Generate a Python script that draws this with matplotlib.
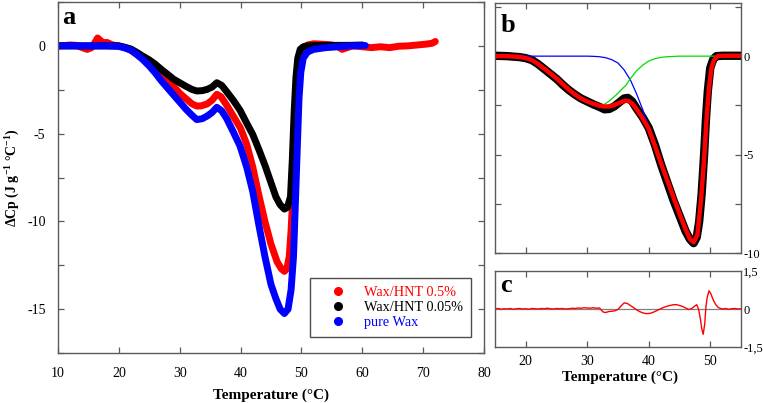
import matplotlib
matplotlib.use("Agg")
import matplotlib.pyplot as plt
from matplotlib.lines import Line2D
from matplotlib.ticker import MultipleLocator, FixedLocator

plt.rcParams['font.family'] = ['Liberation Serif', 'DejaVu Serif']
plt.rcParams['mathtext.fontset'] = 'custom'
plt.rcParams['mathtext.rm'] = 'Liberation Serif'
plt.rcParams['mathtext.bf'] = 'Liberation Serif:bold'
plt.rcParams['axes.unicode_minus'] = False

# ---------------- Panel a data ----------------
T_red = [10, 11, 12, 13, 14, 14.8, 15.5, 16, 16.5, 17, 17.5, 18, 19, 20, 21, 22, 23, 24, 25, 26,
         27, 28, 29, 30, 31, 32, 32.8, 33.5, 34.5, 35.3, 36.1, 36.8, 37.7, 38.8, 40, 41, 42, 43,
         44, 45, 46, 46.7, 47.2, 47.6, 48.0, 48.3, 48.6, 48.9, 49.2, 49.5, 49.9, 50.5, 51, 52, 53,
         54, 55, 56, 56.7, 57.5, 58.5, 60, 61.5, 63, 64.5, 66, 67.5, 69, 70.5, 71.5, 72]
cp_red = [0.0, 0.02, 0.05, 0.03, -0.1, -0.2, -0.1, 0.15, 0.45, 0.3, 0.15, 0.2, 0.05, 0.0, -0.1,
          -0.25, -0.5, -0.75, -1.0, -1.3, -1.62, -1.94, -2.3, -2.7, -3.0, -3.3, -3.43, -3.42,
          -3.31, -3.1, -2.76, -2.9, -3.37, -4.0, -4.7, -5.6, -6.9, -8.5, -10.0, -11.3, -12.3,
          -12.7, -12.85, -12.7, -12.0, -10.5, -8.5, -5.5, -2.8, -1.2, -0.4, -0.1, 0.05, 0.12,
          0.1, 0.08, 0.05, -0.05, -0.2, -0.1, 0.0, -0.05, -0.1, -0.05, -0.1, -0.02, 0.0, 0.05,
          0.1, 0.15, 0.25]

T_blk = [10, 12, 14, 16, 18, 20, 21, 22, 23, 24, 25, 26, 27, 28, 29, 30, 31, 32, 32.8, 33.7,
         34.5, 35.3, 36.1, 36.9, 37.7, 38.8, 39.9, 41, 42, 43, 44, 45, 45.8, 46.5, 47.2, 47.7,
         48.2, 48.5, 48.8, 49.1, 49.4, 49.8, 50.3, 51, 52, 54, 56, 58, 60]
cp_blk = [0, 0, 0, 0, 0, 0, -0.08, -0.18, -0.38, -0.6, -0.8, -1.05, -1.35, -1.62, -1.9, -2.1,
          -2.3, -2.48, -2.57, -2.55, -2.48, -2.35, -2.1, -2.25, -2.6, -3.1, -3.66, -4.4, -5.05,
          -5.9, -6.8, -7.8, -8.6, -9.05, -9.3, -9.2, -8.6, -6.5, -3.8, -1.8, -0.7, -0.2, -0.05,
          0.0, 0.02, 0.03, 0.03, 0.03, 0.05]

T_blu = [10, 12, 14, 16, 18, 20, 21, 22, 23, 24, 25, 26, 27, 28, 29, 30, 31, 32, 32.8, 33.7,
         34.5, 35.3, 36.1, 36.9, 37.7, 38.8, 39.9, 41, 42, 43, 44, 45, 45.8, 46.5, 47.2, 47.8,
         48.3, 48.7, 49.0, 49.3, 49.6, 49.9, 50.3, 51, 52, 54, 56, 58, 60.5]
cp_blu = [0, 0, 0, 0, 0, -0.03, -0.12, -0.25, -0.5, -0.8, -1.15, -1.55, -2.0, -2.4, -2.8, -3.2,
          -3.6, -3.95, -4.2, -4.15, -4.0, -3.8, -3.5, -3.7, -4.13, -4.9, -5.7, -6.9, -8.3,
          -10.2, -12.0, -13.6, -14.4, -15.0, -15.25, -15.0, -13.9, -12.0, -9.0, -6.0, -3.0,
          -1.5, -0.7, -0.35, -0.2, -0.1, -0.05, 0.0, 0.02]

legend_labels = ["Wax/HNT 0.5%", "Wax/HNT 0.05%", "pure Wax"]
series_colors = ["#ff0000", "#000000", "#0000ff"]

# ---------------- Panel b data ----------------
T_b = [15, 17, 19, 20, 21, 22, 23, 24, 25, 26, 27, 28, 29, 30, 31, 32, 32.8, 33.6, 34.4, 35.2,
       36.0, 36.6, 37.3, 38, 39, 40, 41, 42, 43, 44, 45, 46, 46.7, 47.3, 47.8, 48.2, 48.6, 49.0,
       49.3, 49.6, 50.0, 50.5, 51, 52, 53, 54, 55]
cp_b = [0.02, 0.0, -0.05, -0.1, -0.2, -0.4, -0.65, -0.9, -1.15, -1.45, -1.72, -1.95, -2.15,
        -2.3, -2.45, -2.58, -2.7, -2.68, -2.55, -2.35, -2.15, -2.12, -2.3, -2.65, -3.1, -3.65,
        -4.5, -5.5, -6.4, -7.3, -8.1, -8.9, -9.3, -9.5, -9.2, -8.4, -7.0, -5.0, -3.2, -1.8,
        -0.6, -0.15, 0.0, 0.02, 0.02, 0.02, 0.02]

T_fit = [15, 17, 19, 20, 21, 22, 23, 24, 25, 26, 27, 28, 29, 30, 31, 32, 32.8, 33.6, 34.4, 35.2,
         36.0, 36.6, 37.3, 38, 39, 40, 41, 42, 43, 44, 45, 46, 46.7, 47.3, 47.9, 48.5, 49.0,
         49.4, 49.8, 50.2, 50.6, 51.2, 52, 53, 54, 55]
cp_fit = [0, 0, -0.04, -0.1, -0.2, -0.4, -0.63, -0.88, -1.13, -1.42, -1.7, -1.95, -2.15, -2.3,
          -2.42, -2.52, -2.56, -2.55, -2.48, -2.38, -2.28, -2.27, -2.4, -2.68, -3.15, -3.7,
          -4.55, -5.45, -6.3, -7.15, -8.0, -8.8, -9.3, -9.45, -9.1, -7.3, -5.25, -3.2, -1.6,
          -0.6, -0.2, 0.0, 0.02, 0.02, 0.02, 0.02]

T_peak1 = [15, 20, 25, 30, 31, 32, 33, 34, 35, 36, 37, 38, 39, 40, 41.1]
cp_peak1 = [0, 0, 0, 0, -0.01, -0.03, -0.08, -0.18, -0.35, -0.7, -1.2, -1.9, -2.7, -3.6, -4.6]

T_peak2 = [32.6, 33.5, 34.7, 36.3, 37, 38, 39, 40, 41, 42, 43, 45, 51.2]
cp_peak2 = [-2.48, -2.3, -1.97, -1.47, -1.15, -0.75, -0.46, -0.25, -0.13, -0.06, -0.03, 0.0, 0.0]

# ---------------- Panel c data (residual) ----------------
T_res = [15, 15.5, 16, 16.5, 17, 17.5, 18, 18.5, 19, 19.5, 20, 20.5, 21, 21.5, 22, 22.5, 23,
         23.5, 24, 24.5, 25, 25.5, 26, 26.5, 27, 27.5, 28, 28.5, 29, 29.5, 30, 30.5, 31, 31.5,
         32, 32.3, 32.6, 33, 33.5, 34, 34.5, 35, 35.5, 36, 36.5, 37, 37.5, 38, 38.5, 39, 39.5,
         40, 40.5, 41, 41.5, 42, 42.5, 43, 43.5, 44, 44.5, 45, 45.5, 46, 46.5, 47, 47.4, 47.8,
         48.1, 48.4, 48.6, 48.85, 49.1, 49.3, 49.5, 49.8, 50.1, 50.5, 50.9, 51.3, 51.7, 52,
         52.5, 53, 53.5, 54, 54.5, 55]
res = [0.0, 0.02, -0.01, 0.01, 0.0, 0.02, -0.01, 0.01, 0.02, 0.0, 0.01, -0.01, 0.02, 0.01, 0.0,
       0.02, 0.01, 0.03, 0.01, 0.0, 0.02, 0.01, 0.02, 0.0, 0.01, 0.03, 0.02, 0.04, 0.03, 0.05,
       0.04, 0.03, 0.05, 0.03, 0.04, -0.05, -0.12, -0.14, -0.1, -0.09, -0.07, -0.02, 0.12,
       0.24, 0.22, 0.14, 0.06, -0.03, -0.1, -0.15, -0.18, -0.18, -0.15, -0.1, -0.04, 0.02,
       0.07, 0.11, 0.14, 0.17, 0.17, 0.14, 0.1, 0.04, -0.02, 0.02, 0.1, 0.17, 0.0, -0.4,
       -0.75, -1.0, -0.6, 0.1, 0.45, 0.72, 0.6, 0.35, 0.17, 0.06, 0.02, 0.0, 0.02, -0.01,
       0.01, 0.02, 0.0, 0.01]

xt_a = [10, 20, 30, 40, 50, 60, 70, 80]
yt_a = [0, -5, -10, -15]
xt_bc = [20, 30, 40, 50]
yt_b = [0, -5, -10]
yt_c = [1.5, 0, -1.5]
yt_c_labels = ["1,5", "0", "-1,5"]

# ---------------- Figure ----------------
W, H = 763, 403
fig = plt.figure(figsize=(W / 100, H / 100), dpi=100)

def rect(l, t, r, b):
    return [l / W, 1 - b / H, (r - l) / W, (b - t) / H]

axa = fig.add_axes(rect(58, 2, 484, 353))
axb = fig.add_axes(rect(495, 3, 741, 253))
axc = fig.add_axes(rect(495, 271, 741, 347))

spine_col = "#5a5a5a"
for ax in (axa, axb, axc):
    for s in ax.spines.values():
        s.set_color(spine_col)
        s.set_linewidth(1.0)
    ax.tick_params(which='both', direction='in', top=True, right=True, length=4,
                   width=0.9, color=spine_col, labelsize=10)

# Panel a
for T, cp, col in zip([T_red, T_blk, T_blu], [cp_red, cp_blk, cp_blu], series_colors):
    axa.plot(T, cp, color=col, lw=5, solid_capstyle='round', solid_joinstyle='round')
axa.set_xlim(10, 80)
axa.set_ylim(-17.5, 2.5)
axa.xaxis.set_major_locator(FixedLocator(xt_a))
axa.yaxis.set_major_locator(FixedLocator(yt_a))
axa.yaxis.set_minor_locator(MultipleLocator(2.5))
axa.tick_params(axis='y', which='major', pad=9)
axa.tick_params(axis='x', which='major', pad=10)
axa.tick_params(axis='y', which='minor', length=4)

handles = [Line2D([], [], ls='none', marker='o', ms=5.5, color=c) for c in series_colors]
leg = axa.legend(handles, legend_labels, loc='lower right', bbox_to_anchor=(0.969, 0.046),
                 fontsize=10.3, frameon=True, fancybox=False, handlelength=2.9,
                 handletextpad=0.35, borderpad=0.55, labelspacing=0.15, borderaxespad=0)
leg.get_frame().set_edgecolor('#222222')
leg.get_frame().set_linewidth(1.0)
for txt, c in zip(leg.get_texts(), series_colors):
    txt.set_color(c)

# Panel b
axb.plot(T_b, cp_b, color='black', lw=6, solid_capstyle='round', solid_joinstyle='round')
axb.plot(T_peak1, cp_peak1, color='#0000ff', lw=0.9)
axb.plot(T_peak2, cp_peak2, color='#00dd00', lw=0.9)
axb.plot(T_fit, cp_fit, color='#ff0000', lw=3.2, solid_capstyle='round', solid_joinstyle='round')
axb.set_xlim(15, 55)
axb.set_ylim(-10, 2.7)
axb.xaxis.set_major_locator(FixedLocator(xt_bc))
axb.yaxis.set_major_locator(FixedLocator(yt_b))
axb.yaxis.set_minor_locator(MultipleLocator(2.5))
axb.tick_params(axis='y', which='minor', length=4)
axb.tick_params(labelbottom=False, labelleft=False, labelright=True)
axb.tick_params(axis='y', labelsize=9, pad=1.5)

# Panel c
axc.axhline(0, color='#808080', lw=0.9)
axc.plot(T_res, res, color='#ff0000', lw=1.0)
axc.set_xlim(15, 55)
axc.set_ylim(-1.5, 1.5)
axc.xaxis.set_major_locator(FixedLocator(xt_bc))
axc.set_yticks(yt_c)
axc.set_yticklabels(yt_c_labels)
axc.tick_params(axis='y', left=False, right=False, labelleft=False, labelright=True,
                labelsize=9, pad=1.5)
axc.tick_params(axis='x', pad=6)

# Text labels
fig.text(12 / W, 1 - 178 / H, r'$\mathbf{\Delta}$Cp (J g$^{\mathbf{-1}}$ °C$^{\mathbf{-1}}$)',
         rotation=90, ha='center', va='center', fontsize=10, fontweight='bold')
fig.text(271 / W, 1 - 395 / H, 'Temperature (°C)', ha='center', va='center',
         fontsize=11, fontweight='bold')
fig.text(620 / W, 1 - 377 / H, 'Temperature (°C)', ha='center', va='center',
         fontsize=11, fontweight='bold')
fig.text(69 / W, 1 - 18 / H, 'a', ha='center', va='center', fontsize=19, fontweight='bold')
fig.text(508 / W, 1 - 25 / H, 'b', ha='center', va='center', fontsize=19, fontweight='bold')
fig.text(506 / W, 1 - 286 / H, 'c', ha='center', va='center', fontsize=19, fontweight='bold')

fig.savefig('out.png', dpi=100)
